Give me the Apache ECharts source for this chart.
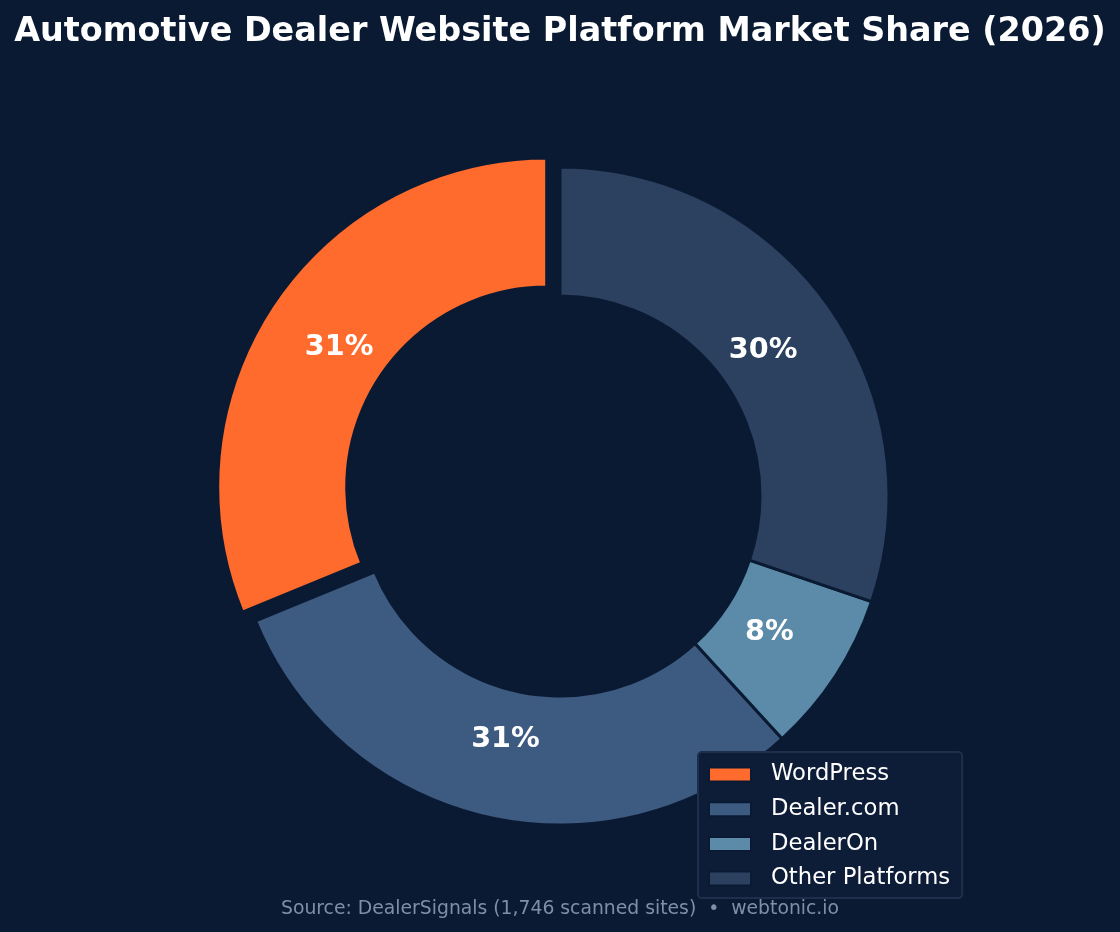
<!DOCTYPE html>
<html>
<head>
<meta charset="utf-8">
<script src="https://cdn.jsdelivr.net/npm/echarts@6/dist/echarts.min.js"></script>
<style>
  html, body { margin: 0; padding: 0; background: #0b1a33; }
  #chart { width: 1120px; height: 932px; }
</style>
</head>
<body>
<div id="chart"></div>
<script>
const platforms = ["WordPress", "Dealer.com", "DealerOn", "Other Platforms"];
const shares = [31.2, 30.6, 8.0, 30.2];
const colors = ["#ff6b2c", "#3d5a80", "#5b8ba8", "#2c4060"];

const bg = "#0b1a33";
const center = [560, 496];

const pieData = platforms.map((name, i) => ({
  name: name,
  value: shares[i],
  selected: i === 0,
  itemStyle: { color: colors[i] },
}));

// same slices, invisible, only used to place the percent labels a bit inward
const labelData = platforms.map((name, i) => ({
  name: name,
  value: shares[i],
  selected: i === 0,
}));

const option = {
  backgroundColor: bg,
  title: [
    {
      text: "Automotive Dealer Website Platform Market Share (2026)",
      left: "center",
      top: 11,
      textStyle: {
        color: "#ffffff",
        fontFamily: "DejaVu Sans",
        fontWeight: "bold",
        fontSize: 33.4,
      },
    },
    {
      text: "Source: DealerSignals (1,746 scanned sites)  \u2022  webtonic.io",
      left: "center",
      top: 895,
      textStyle: {
        color: "#7f8fa8",
        fontFamily: "DejaVu Sans",
        fontWeight: "normal",
        fontSize: 18.8,
      },
    },
  ],
  legend: {
    orient: "vertical",
    left: 698,
    top: 752,
    padding: [11, 12, 8, 10],
    backgroundColor: "#0d1c37",
    borderColor: "#1f2f4b",
    borderWidth: 2,
    borderRadius: 4,
    itemWidth: 42,
    itemHeight: 14,
    itemGap: 11.7,
    icon: "rect",
    data: platforms,
    textStyle: {
      color: "#ffffff",
      fontFamily: "DejaVu Sans",
      fontSize: 22.7,
      padding: [0, 0, 0, 15],
    },
  },
  series: [
    {
      type: "pie",
      center: center,
      radius: [200, 329],
      startAngle: 90,
      clockwise: false,
      selectedMode: "single",
      selectedOffset: 16,
      itemStyle: {
        borderColor: bg,
        borderWidth: 3,
      },
      label: { show: false },
      labelLine: { show: false },
      emphasis: { disabled: true },
      data: pieData,
    },
    {
      type: "pie",
      center: center,
      radius: [166, 328],
      startAngle: 90,
      clockwise: false,
      selectedMode: "single",
      selectedOffset: 16,
      silent: true,
      avoidLabelOverlap: false,
      itemStyle: {
        color: "rgba(0,0,0,0)",
        borderWidth: 0,
      },
      label: {
        position: "inside",
        color: "#ffffff",
        fontFamily: "DejaVu Sans",
        fontWeight: "bold",
        fontSize: 28.7,
        formatter: (p) => Math.round(p.percent) + "%",
      },
      labelLine: { show: false },
      emphasis: { disabled: true },
      data: labelData,
    },
  ],
};

const myChart = echarts.init(document.getElementById("chart"));
option && myChart.setOption(option);
</script>
</body>
</html>
